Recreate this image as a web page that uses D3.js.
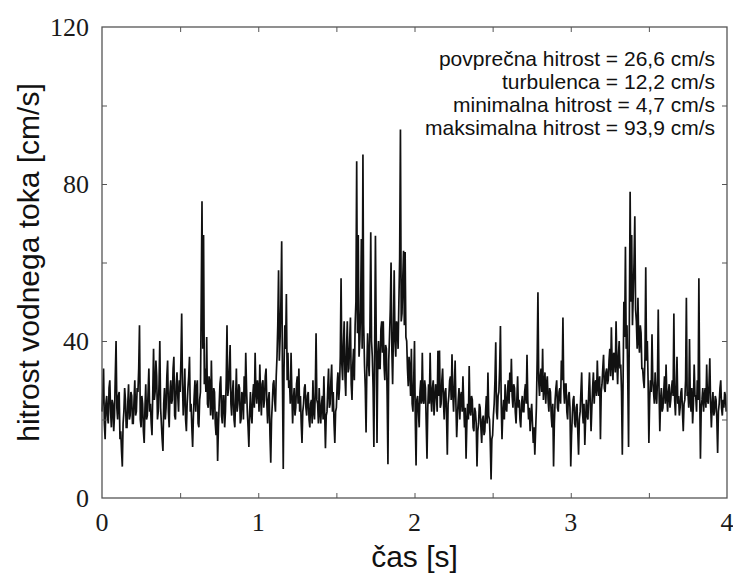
<!DOCTYPE html>
<html>
<head>
<meta charset="utf-8">
<script src="https://cdn.jsdelivr.net/npm/d3@7"></script>
<style>
  html, body { margin: 0; padding: 0; background: #fff; }
  svg { display: block; }
  .tick-label { font-family: "Liberation Serif", "DejaVu Serif", serif; font-size: 26px; fill: #1a1a1a; }
  .axis-title { font-family: "Liberation Sans", Arial, sans-serif; font-size: 30px; fill: #111; }
  .stat-text { font-family: "Liberation Sans", Arial, sans-serif; font-size: 21px; fill: #111; }
</style>
</head>
<body>
<svg id="chart"></svg>
<script>
// velocity samples, one array per second, 0.005 s apart
const sampleStep = 0.005;
const velSec0 = [
  22, 27, 33, 19, 15, 24, 26, 21, 19, 28, 30, 22, 18, 25, 24, 17, 21, 31, 40, 23,
  20, 26, 27, 15, 17, 12, 8, 19, 22, 28, 25, 18, 18, 24, 29, 20, 21, 27, 26, 19,
  19, 25, 30, 21, 22, 28, 27, 33, 44, 20, 18, 26, 24, 17, 14, 23, 29, 20, 21, 27,
  33, 22, 24, 19, 16, 27, 38, 25, 27, 35, 31, 20, 22, 29, 40, 23, 19, 15, 12, 24,
  28, 20, 23, 31, 35, 22, 18, 27, 30, 24, 25, 33, 36, 21, 20, 29, 32, 26, 22, 30,
  27, 35, 47, 29, 21, 26, 33, 20, 17, 24, 28, 31, 36, 22, 24, 18, 13, 21, 26, 30,
  22, 28, 30, 19, 18, 25, 27, 50, 75.6, 38, 67, 29, 33, 27, 41, 24, 23, 31, 29, 21,
  35, 24, 20, 28, 27, 19, 16, 22, 9.4, 18, 24, 29, 31, 21, 19, 26, 26, 18, 22, 30,
  44, 26, 28, 33, 39, 24, 21, 27, 30, 20, 18, 25, 33, 22, 24, 29, 28, 19, 20, 27,
  26, 20, 31, 24, 37, 28, 22, 18, 13, 22, 27, 21, 19, 26, 29, 23, 37, 27, 24, 30
];
const velSec1 = [
  28, 22, 34, 26, 21, 29, 30, 23, 25, 31, 33, 24, 19, 25, 27, 16, 9, 20, 24, 29,
  30, 25, 22, 31, 36, 44, 58, 35, 41, 50, 65.4, 30, 7.4, 33, 44, 38, 52, 30, 37, 28,
  30, 24, 37, 27, 19, 25, 28, 21, 23, 29, 31, 24, 33, 22, 26, 19, 14, 22, 24, 28,
  29, 23, 21, 26, 27, 20, 18, 24, 25, 19, 30, 22, 20, 27, 42, 25, 24, 19, 28, 22,
  19, 24, 26, 20, 31, 22, 12.7, 21, 22, 28, 33, 23, 24, 30, 34, 22, 27, 19, 14, 22,
  23, 29, 32, 25, 28, 36, 56, 34, 30, 39, 45, 31, 26, 38, 45, 32, 33, 40, 46, 29,
  25, 34, 38, 30, 44, 50, 85.8, 42, 67, 36, 40, 48, 66, 38, 87.5, 44, 34, 28, 16.7, 33,
  42, 35, 31, 44, 67.7, 40, 36, 28, 13, 38, 66.8, 41, 14, 36, 40, 33, 33, 43, 45, 37,
  45, 34, 30, 39, 38, 26, 8.6, 35, 41, 48, 60, 38, 29, 42, 58, 40, 36, 45, 44, 38,
  50, 61, 93.9, 45, 47, 56, 63, 44, 62.7, 41, 40, 33, 28.5, 36, 33, 26, 38, 24, 22, 30
];
const velSec2 = [
  40, 20, 8.3, 25, 26, 22, 18, 27, 30, 24, 37, 25, 24, 30, 28, 19, 10, 23, 29, 24,
  37, 26, 22, 28, 30, 21, 25, 29, 27, 22, 37.5, 26, 37.6, 23, 24, 30, 33, 25, 20, 27,
  28, 21, 11, 24, 26, 30, 31, 25, 36.6, 27, 22, 28, 35, 24, 15.5, 21, 25, 28, 20, 26,
  27, 22, 31, 24, 18, 23, 10, 19, 24, 20, 33.6, 22, 21, 26, 25, 18, 17, 23, 22, 19,
  8, 17, 19, 24, 23, 18, 14, 20, 21, 16, 17, 22, 26, 19, 32, 21, 20, 14, 4.7, 15,
  16, 21, 24, 30, 39.7, 22, 20, 26, 27, 33, 43.8, 24, 15, 22, 25, 20, 29, 23, 22, 27,
  30, 24, 32, 27, 35.5, 26, 23, 29, 28, 22, 19, 25, 31, 23, 25, 20, 18, 24, 26, 22,
  22, 27, 29, 24, 36.5, 25, 20, 23, 17, 21, 24, 19, 14, 18, 11, 17, 23, 35, 52.4, 30,
  26, 31, 33, 27, 38, 25, 28, 32, 24, 29, 31, 25, 22, 28, 27, 21, 18, 24, 8, 19,
  25, 28, 30, 23, 22, 27, 28, 24, 35, 30, 46, 28, 24, 29, 29, 22, 20, 26, 27, 23
];
const velSec3 = [
  8, 16, 21, 25, 26, 19, 18, 23, 24, 17, 11, 20, 22, 27, 32, 22, 19, 24, 13.5, 20,
  25, 21, 20, 27, 32, 24, 17, 23, 28, 32, 24, 29, 30, 26, 35, 28, 26, 31, 15, 27,
  29, 33, 36.5, 28, 27, 32, 33, 29, 30, 35, 38, 31, 43.5, 34, 30, 37, 36, 32, 45, 35,
  29, 36, 40, 33, 34, 27, 11, 30, 50, 41, 64, 38, 44, 30, 13, 45, 78, 50, 67, 44,
  52, 60, 71.8, 48, 45, 38, 51, 40, 37, 44, 42, 33, 33, 30, 28, 36, 58.8, 35, 40, 30,
  14, 25, 30, 27, 41.7, 30, 27, 24, 32, 26, 24, 30, 48, 28, 17, 25, 28, 22, 23, 27,
  31, 24, 34, 26, 22, 27, 29, 23, 25, 28, 30, 26, 47, 25, 21, 28, 36, 24, 26, 21,
  23, 27, 28, 22, 17, 24, 25, 30, 51, 26, 27, 23, 40.5, 25, 22, 28, 19, 24, 34, 26,
  26, 22, 30, 25, 56, 28, 10, 23, 25, 28, 22, 26, 28, 23, 34, 25, 24, 29, 35.6, 24,
  18, 24, 27, 21, 22, 26, 25, 20, 11.5, 22, 24, 28, 30, 23, 21, 25, 23, 27, 26, 22
];

const xTickLabels = [0, 1, 2, 3, 4];
const xMinorTicks = [0.5, 1, 1.5, 2, 2.5, 3, 3.5];
const yTickLabels = [0, 40, 80, 120];
const yMinorTicks = [20, 40, 60, 80, 100];
const statLines = [
  'povprečna hitrost = 26,6 cm/s',
  'turbulenca = 12,2 cm/s',
  'minimalna hitrost = 4,7 cm/s',
  'maksimalna hitrost = 93,9 cm/s'
];

class VelocityChart {
  constructor() {
    this.width = 733;
    this.height = 578;
    this.margin = { top: 27, right: 6, bottom: 80, left: 102 };
    this.svg = d3.select('#chart')
      .attr('width', this.width)
      .attr('height', this.height);

    this.x = d3.scaleLinear().domain([0, 4]).range([this.margin.left, this.width - this.margin.right]);
    this.y = d3.scaleLinear().domain([0, 120]).range([this.height - this.margin.bottom, this.margin.top]);

    this.processData();
    this.render();
  }

  processData() {
    this.points = [];
    [velSec0, velSec1, velSec2, velSec3].forEach((arr, s) => {
      arr.forEach((v, i) => {
        this.points.push({ t: s + i * sampleStep, v: v });
      });
    });
  }

  render() {
    const x = this.x, y = this.y;
    const [x0, x1] = x.range();
    const [y0, y1] = y.range();

    // velocity trace
    const line = d3.line().x(d => x(d.t)).y(d => y(d.v));
    this.svg.append('path')
      .datum(this.points)
      .attr('d', line)
      .attr('fill', 'none')
      .attr('stroke', '#111')
      .attr('stroke-width', 1.7);

    // frame
    this.svg.append('rect')
      .attr('x', x0).attr('y', y1)
      .attr('width', x1 - x0).attr('height', y0 - y1)
      .attr('fill', 'none')
      .attr('stroke', '#555')
      .attr('stroke-width', 1.3);

    // inward ticks, all four sides
    const tickLen = 5;
    const bottomAxis = d3.axisBottom(x).tickValues(xMinorTicks).tickSizeInner(-tickLen).tickSizeOuter(0).tickFormat('');
    const topAxis = d3.axisTop(x).tickValues(xMinorTicks).tickSizeInner(-tickLen).tickSizeOuter(0).tickFormat('');
    const leftAxis = d3.axisLeft(y).tickValues(yMinorTicks).tickSizeInner(-tickLen).tickSizeOuter(0).tickFormat('');
    const rightAxis = d3.axisRight(y).tickValues(yMinorTicks).tickSizeInner(-tickLen).tickSizeOuter(0).tickFormat('');

    this.svg.append('g').attr('transform', `translate(0,${y0})`).call(bottomAxis);
    this.svg.append('g').attr('transform', `translate(0,${y1})`).call(topAxis);
    this.svg.append('g').attr('transform', `translate(${x0},0)`).call(leftAxis);
    this.svg.append('g').attr('transform', `translate(${x1},0)`).call(rightAxis);
    this.svg.selectAll('.domain').remove();
    this.svg.selectAll('.tick line').attr('stroke', '#555');

    // tick labels
    this.svg.selectAll('.x-label')
      .data(xTickLabels)
      .enter()
      .append('text')
      .attr('class', 'tick-label')
      .attr('x', d => x(d))
      .attr('y', y0 + 33)
      .attr('text-anchor', 'middle')
      .text(d => d);

    this.svg.selectAll('.y-label')
      .data(yTickLabels)
      .enter()
      .append('text')
      .attr('class', 'tick-label')
      .attr('x', x0 - 13)
      .attr('y', d => y(d) + 9)
      .attr('text-anchor', 'end')
      .text(d => d);

    // axis titles
    this.svg.append('text')
      .attr('class', 'axis-title')
      .attr('x', (x0 + x1) / 2)
      .attr('y', 567)
      .attr('text-anchor', 'middle')
      .text('čas [s]');

    this.svg.append('text')
      .attr('class', 'axis-title')
      .attr('transform', `translate(39,${(y0 + y1) / 2}) rotate(-90)`)
      .attr('text-anchor', 'middle')
      .text('hitrost vodnega toka [cm/s]');

    // statistics block
    this.svg.selectAll('.stat-text')
      .data(statLines)
      .enter()
      .append('text')
      .attr('class', 'stat-text')
      .attr('x', 715)
      .attr('y', (d, i) => 66 + i * 23)
      .attr('text-anchor', 'end')
      .text(d => d);
  }
}

document.addEventListener('DOMContentLoaded', () => {
  new VelocityChart();
});
</script>
</body>
</html>
